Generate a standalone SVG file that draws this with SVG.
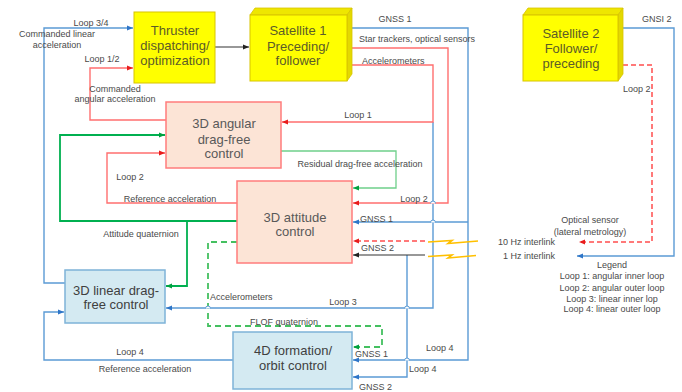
<svg xmlns="http://www.w3.org/2000/svg" width="682" height="392" viewBox="0 0 682 392">
<defs>
<style>
.t{font-family:"Liberation Sans",Arial,sans-serif;font-size:9px;fill:#4a4a4a}
.m{text-anchor:middle}
.bx{font-family:"Liberation Sans",Arial,sans-serif;font-size:13px;text-anchor:middle}
.yt{fill:#5c5c28}
.pt{fill:#595959}
.bt{fill:#404040}
.yel{fill:#ffff00;stroke:#d8c400;stroke-width:1}
.pink{fill:#fce4d6;stroke:#ff7c7c;stroke-width:1.5}
.blu{fill:#d4eaf2;stroke:#7eb3d8;stroke-width:1.5}
.b{fill:none;stroke:#5b9bd5;stroke-width:1.4}
.r{fill:none;stroke:#ff6f6f;stroke-width:1.4}
.rd{fill:none;stroke:#ff4d4d;stroke-width:1.5;stroke-dasharray:5 3}
.g{fill:none;stroke:#00b050;stroke-width:1.8}
.gl{fill:none;stroke:#6fcf8a;stroke-width:1.3}
.gd{fill:none;stroke:#44c060;stroke-width:1.8;stroke-dasharray:6 4}
.k{fill:none;stroke:#333333;stroke-width:1.2}
.y{fill:none;stroke:#ffc000;stroke-width:1.6;stroke-linejoin:miter}
.hop{fill:#ffffff;stroke:#5b9bd5;stroke-width:1}
</style>
<marker id="aB" markerWidth="6" markerHeight="6" refX="6" refY="3" orient="auto" markerUnits="userSpaceOnUse"><path d="M0,0.5 L6,3 L0,5.5 z" fill="#2e75c8"/></marker>
<marker id="aR" markerWidth="6" markerHeight="6" refX="6" refY="3" orient="auto" markerUnits="userSpaceOnUse"><path d="M0,0.5 L6,3 L0,5.5 z" fill="#e81c1c"/></marker>
<marker id="aG" markerWidth="6" markerHeight="6" refX="6" refY="3" orient="auto" markerUnits="userSpaceOnUse"><path d="M0,0.5 L6,3 L0,5.5 z" fill="#00a040"/></marker>
<marker id="aK" markerWidth="6" markerHeight="6" refX="6" refY="3" orient="auto" markerUnits="userSpaceOnUse"><path d="M0,0.5 L6,3 L0,5.5 z" fill="#222222"/></marker>
</defs>
<rect width="682" height="392" fill="#ffffff"/>

<g id="connectors">
<path class="k" d="M215,47 H249" marker-end="url(#aK)"/>
<path class="b" d="M70,283 H44 V28 H133" marker-end="url(#aB)"/>
<path class="b" d="M70,283 Q94,294 64,311" stroke-dasharray="4 3"/>
<path class="b" d="M233,360 H44 V312 H64" marker-end="url(#aB)"/>
<path class="r" d="M166,120 H90 V68 H133" marker-end="url(#aR)"/>
<path class="rd" d="M167,121 Q199,137 164,153" stroke-dasharray="4 2.5"/>
<path class="r" d="M237,203 H107 V153 H165" marker-end="url(#aR)"/>
<path class="g" d="M237,221 H60 V135 H165" marker-end="url(#aG)"/>
<path class="g" d="M187,221 V286 H166" marker-end="url(#aG)"/>
<path class="gd" d="M237,242 H208 V326 H382 V347 H353" marker-end="url(#aG)"/>
<path class="gl" d="M281,151 H396 V188 H353" marker-end="url(#aG)"/>
<path class="b" d="M433,122 V308 H166" marker-end="url(#aB)"/>
<path class="r" d="M352,65 H433 V122 H282" marker-end="url(#aR)"/>
<path class="r" d="M352,48 H448 V203 H353" marker-end="url(#aR)"/>
<path class="b" d="M352,28 H468 V360 H353" marker-end="url(#aB)"/>
<path class="b" d="M468,222 H353" marker-end="url(#aB)"/>
<path class="b" d="M407,255 V377 H353" marker-end="url(#aB)"/>
<path class="rd" d="M425,241 H353" marker-end="url(#aR)"/>
<path class="k" d="M425,255 H353" marker-end="url(#aK)"/>
<path class="rd" d="M623,65 H652 V242 H579" marker-end="url(#aR)"/>
<path class="b" d="M623,28 H674 V256 H577" marker-end="url(#aB)"/>
<path class="y" d="M428,242 L452,240.5 L448,243.5 L478,241"/>
<path class="y" d="M428,256.5 L452,255 L448,258 L476,255.5"/>
<path class="hop" d="M430.5,203.5 a2.5,2.5 0 0 1 5,0"/>
<path class="hop" d="M430.5,222.5 a2.5,2.5 0 0 1 5,0"/>
<path class="hop" d="M404.5,308.5 a2.5,2.5 0 0 1 5,0"/>
<path class="hop" d="M404.5,360.5 a2.5,2.5 0 0 1 5,0"/>
<path class="hop" d="M205.5,308.5 a2.5,2.5 0 0 1 5,0"/>
</g>

<g id="thruster">
<rect class="yel" x="134" y="12" width="81" height="71"/>
<text class="bx yt" font-size="13.5" x="175" y="35">Thruster</text>
<text class="bx yt" font-size="13.5" x="175" y="50">dispatching/</text>
<text class="bx yt" font-size="13.5" x="175" y="65">optimization</text>
</g>

<g id="satellite1">
<polygon points="250,15 255,8 352,8 347,15" fill="#eee600" stroke="#d8c400" stroke-width="0.8"/>
<polygon points="347,15 352,8 352,74 347,81" fill="#e3d900" stroke="#d8c400" stroke-width="0.8"/>
<rect class="yel" x="250" y="15" width="97" height="66"/>
<text class="bx yt" font-size="13.5" x="298" y="35">Satellite 1</text>
<text class="bx yt" font-size="13.5" x="298" y="51">Preceding/</text>
<text class="bx yt" font-size="13.5" x="298" y="65">follower</text>
</g>

<g id="satellite2">
<polygon points="523,15 528,8 623,8 618,15" fill="#eee600" stroke="#d8c400" stroke-width="0.8"/>
<polygon points="618,15 623,8 623,74 618,81" fill="#e3d900" stroke="#d8c400" stroke-width="0.8"/>
<rect class="yel" x="523" y="15" width="95" height="66"/>
<text class="bx yt" font-size="13.5" x="571" y="38">Satellite 2</text>
<text class="bx yt" font-size="13.5" x="571" y="53">Follower/</text>
<text class="bx yt" font-size="13.5" x="571" y="68">preceding</text>
</g>

<g id="angular">
<rect class="pink" x="166" y="102" width="115" height="66"/>
<text class="bx pt" x="224" y="128">3D angular</text>
<text class="bx pt" x="224" y="144">drag-free</text>
<text class="bx pt" x="224" y="158">control</text>
</g>

<g id="attitude">
<rect class="pink" x="237" y="181" width="115" height="82"/>
<text class="bx pt" x="295" y="222">3D attitude</text>
<text class="bx pt" x="295" y="236">control</text>
</g>

<g id="linear">
<rect class="blu" x="65" y="270" width="100" height="53"/>
<text class="bx bt" x="116" y="295">3D linear drag-</text>
<text class="bx bt" x="116" y="309">free control</text>
</g>

<g id="formation">
<rect class="blu" x="233" y="332" width="119" height="57"/>
<text class="bx bt" x="293" y="355">4D formation/</text>
<text class="bx bt" x="293" y="370">orbit control</text>
</g>

<g id="labels">
<text class="t m" x="91" y="26">Loop 3/4</text>
<text class="t m" x="57" y="37">Commanded linear</text>
<text class="t m" x="57" y="48">acceleration</text>
<text class="t m" x="102" y="62">Loop 1/2</text>
<text class="t m" x="115" y="92">Commanded</text>
<text class="t m" x="115" y="102">angular acceleration</text>
<text class="t m" x="395" y="22">GNSS 1</text>
<text class="t" x="359" y="42">Star trackers, optical sensors</text>
<text class="t" x="362" y="64">Accelerometers</text>
<text class="t m" x="358" y="118">Loop 1</text>
<text class="t m" x="360" y="167">Residual drag-free acceleration</text>
<text class="t m" x="414" y="202">Loop 2</text>
<text class="t" x="360" y="222">GNSS 1</text>
<text class="t" x="361" y="251">GNSS 2</text>
<text class="t m" x="130" y="180">Loop 2</text>
<text class="t m" x="170" y="202">Reference acceleration</text>
<text class="t m" x="141" y="237">Attitude quaternion</text>
<text class="t" x="210" y="300">Accelerometers</text>
<text class="t m" x="343" y="305">Loop 3</text>
<text class="t m" x="284" y="325">FLOF quaternion</text>
<text class="t m" x="130" y="355">Loop 4</text>
<text class="t m" x="145" y="372">Reference acceleration</text>
<text class="t" x="355" y="357">GNSS 1</text>
<text class="t" x="359" y="390">GNSS 2</text>
<text class="t" x="426" y="351">Loop 4</text>
<text class="t" x="409" y="372">Loop 4</text>
<text class="t" x="642" y="22">GNSI 2</text>
<text class="t" x="623" y="92">Loop 2</text>
<text class="t m" x="590" y="223">Optical sensor</text>
<text class="t m" x="590" y="235">(lateral metrology)</text>
<text class="t" x="498" y="245">10 Hz interlink</text>
<text class="t" x="503" y="259">1 Hz interlink</text>
<text class="t m" x="612" y="268">Legend</text>
<text class="t m" x="612" y="279">Loop 1: angular inner loop</text>
<text class="t m" x="612" y="291">Loop 2: angular outer loop</text>
<text class="t m" x="612" y="302">Loop 3: linear inner lop</text>
<text class="t m" x="612" y="312">Loop 4: linear outer loop</text>
</g>
</svg>
